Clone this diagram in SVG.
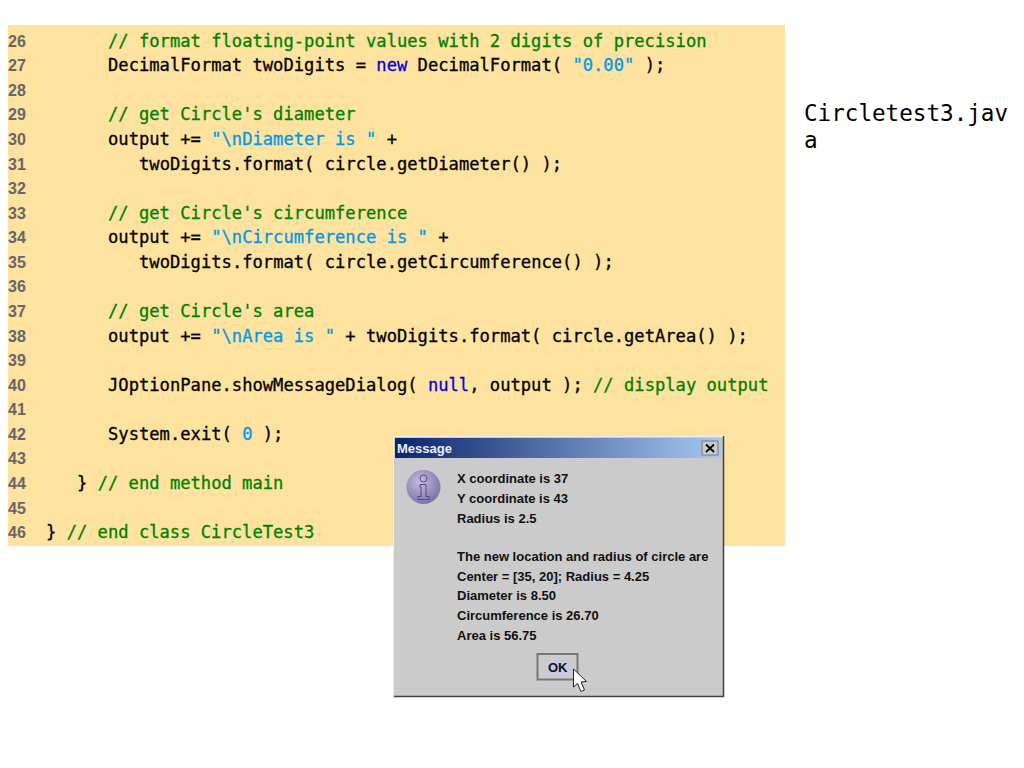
<svg xmlns="http://www.w3.org/2000/svg" width="1024" height="768" viewBox="0 0 1024 768">
<defs>
<style>
.n{font:bold 16px "Liberation Sans",Arial,sans-serif;fill:#666}
.c{font:17.15px "DejaVu Sans Mono",monospace;fill:#000;stroke:#000;stroke-width:.3;white-space:pre}
.g{fill:#008000;stroke:#008000}.s{fill:#0099e6;stroke:#0099e6}.k{fill:#0000e0;stroke:#0000e0}
.d{font:bold 13px "Liberation Sans",Arial,sans-serif;fill:#111}
</style>
<linearGradient id="tb" x1="0" x2="1" y1="0" y2="0"><stop offset="0" stop-color="#0a246a"/><stop offset="1" stop-color="#a6caf0"/></linearGradient>
<radialGradient id="ic" cx=".4" cy=".35" r=".7"><stop offset="0" stop-color="#c5bcdc"/><stop offset="1" stop-color="#7a6ea8"/></radialGradient>
</defs>
<rect width="1024" height="768" fill="#fff"/>
<g id="code-panel">
<rect x="8" y="25" width="777" height="521" fill="#fee2a0"/>
<g id="line-numbers">
<text class="n" x="8" y="47">26</text><text class="n" x="8" y="71">27</text><text class="n" x="8" y="96">28</text><text class="n" x="8" y="120">29</text><text class="n" x="8" y="145">30</text><text class="n" x="8" y="170">31</text><text class="n" x="8" y="194">32</text><text class="n" x="8" y="219">33</text><text class="n" x="8" y="243">34</text><text class="n" x="8" y="268">35</text><text class="n" x="8" y="292">36</text><text class="n" x="8" y="317">37</text><text class="n" x="8" y="342">38</text><text class="n" x="8" y="366">39</text><text class="n" x="8" y="391">40</text><text class="n" x="8" y="415">41</text><text class="n" x="8" y="440">42</text><text class="n" x="8" y="464">43</text><text class="n" x="8" y="489">44</text><text class="n" x="8" y="514">45</text><text class="n" x="8" y="538">46</text>
</g>
<g id="code">
<text class="c g" x="108" y="47">// format floating-point values with 2 digits of precision</text>
<text class="c" x="108" y="71">DecimalFormat twoDigits = <tspan class="k">new</tspan> DecimalFormat( <tspan class="s">"0.00"</tspan> );</text>
<text class="c g" x="108" y="120">// get Circle's diameter</text>
<text class="c" x="108" y="145">output += <tspan class="s">"\nDiameter is "</tspan> +</text>
<text class="c" x="139" y="170">twoDigits.format( circle.getDiameter() );</text>
<text class="c g" x="108" y="219">// get Circle's circumference</text>
<text class="c" x="108" y="243">output += <tspan class="s">"\nCircumference is "</tspan> +</text>
<text class="c" x="139" y="268">twoDigits.format( circle.getCircumference() );</text>
<text class="c g" x="108" y="317">// get Circle's area</text>
<text class="c" x="108" y="342">output += <tspan class="s">"\nArea is "</tspan> + twoDigits.format( circle.getArea() );</text>
<text class="c" x="108" y="391">JOptionPane.showMessageDialog( <tspan class="k">null</tspan>, output ); <tspan class="g">// display output</tspan></text>
<text class="c" x="108" y="440">System.exit( <tspan class="s">0</tspan> );</text>
<text class="c" x="77" y="489">} <tspan class="g">// end method main</tspan></text>
<text class="c" x="46" y="538">} <tspan class="g">// end class CircleTest3</tspan></text>
</g>
</g>
<g id="file-label" font-family="DejaVu Sans Mono, monospace" font-size="22.6" fill="#000">
<text x="804" y="121">Circletest3.jav</text>
<text x="804" y="148">a</text>
</g>
<g id="dialog">
<rect x="393" y="436" width="331" height="261" fill="#cbcbcb"/>
<path d="M393 696.500H724M723.500 436V697" stroke="#404040" stroke-width="1.500" fill="none"/>
<path d="M393.500 697V436.500H723" stroke="#eee" fill="none"/>
<rect x="395" y="438" width="327" height="20" fill="url(#tb)"/>
<text x="397" y="452.500" font-family="Liberation Sans, Arial, sans-serif" font-weight="bold" font-size="13" fill="#eef">Message</text>
<g id="close-button">
<rect x="702" y="441" width="16" height="14" fill="#cbcbcb" stroke="#777"/>
<path d="M706 444.500l8 7.500M714 444.500l-8 7.500" stroke="#000" stroke-width="1.800"/>
</g>
<g id="info-icon">
<circle cx="423.500" cy="487" r="17" fill="url(#ic)"/>
<circle cx="423.500" cy="478.500" r="3.500" fill="none" stroke="#54468c"/>
<path d="M420 484.500h6v12h3v3h-11v-3h3v-9.500h-1z" fill="none" stroke="#54468c"/>
</g>
<g id="dialog-text">
<text class="d" x="457" y="483">X coordinate is 37</text>
<text class="d" x="457" y="502.500">Y coordinate is 43</text>
<text class="d" x="457" y="522.500">Radius is 2.5</text>
<text class="d" x="457" y="561">The new location and radius of circle are</text>
<text class="d" x="457" y="581">Center = [35, 20]; Radius = 4.25</text>
<text class="d" x="457" y="600">Diameter is 8.50</text>
<text class="d" x="457" y="620">Circumference is 26.70</text>
<text class="d" x="457" y="639.500">Area is 56.75</text>
</g>
<g id="ok-button">
<rect x="537.500" y="654" width="40" height="25.500" fill="#cbcbcb" stroke="#777" stroke-width="2"/>
<rect x="547" y="659" width="22" height="16" fill="#c8c8de"/>
<text class="d" x="548" y="671.500">OK</text>
</g>
<path id="cursor" d="M573.500 669v18l4-3.500 3.500 8 3.500-1.500-3.500-8 5.500-.5z" fill="#fff" stroke="#222"/>
</g>
</svg>
